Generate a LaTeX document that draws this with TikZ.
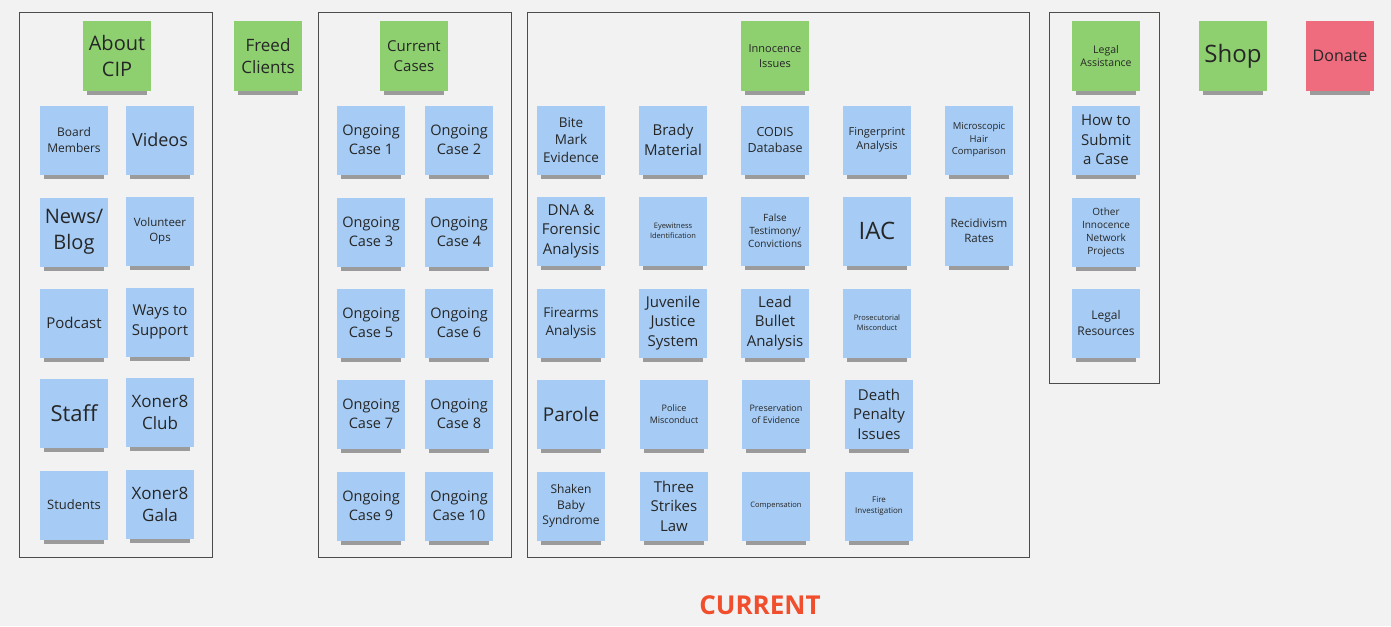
\documentclass[tikz,border=0pt]{standalone}
\usepackage{fontspec}
\setmainfont{Open Sans}
\usetikzlibrary{shadows}
\definecolor{boardbg}{HTML}{F2F2F2}
\definecolor{stickyblue}{HTML}{A6CCF5}
\definecolor{stickygreen}{HTML}{8ED070}
\definecolor{stickypink}{HTML}{EF6B7E}
\definecolor{currentred}{HTML}{F04E2C}
\newcommand\fsz[1]{\fontsize{#1}{1.3\dimexpr#1pt\relax}\selectfont}

\begin{document}
\begin{tikzpicture}[x=1pt,y=-1pt,
  note/.style={rectangle,minimum width=68,minimum height=69,inner sep=1pt,align=center,text=black!85,
    drop shadow={shadow scale=0.88,shadow xshift=0pt,shadow yshift=-10pt,opacity=0.45,fill=black!80}},
  bluenote/.style={note,fill=stickyblue},
  greennote/.style={note,fill=stickygreen},
  pinknote/.style={note,fill=stickypink},
  frame/.style={rectangle,draw=black!70,line width=0.9pt,inner sep=0pt}]
\fill[boardbg] (0,0) rectangle (1391,626);
\useasboundingbox (0,0) rectangle (1391,626);

% frames
\node[frame,minimum width=193,minimum height=545] (fabout) at (115.5,284.5) {};
\node[frame,minimum width=193,minimum height=545] (fcases) at (414.5,284.5) {};
\node[frame,minimum width=502,minimum height=545] (fissues) at (778,284.5) {};
\node[frame,minimum width=110,minimum height=371] (flegal) at (1104,197.5) {};

% about
\node[greennote,font=\fsz{20}] (about) at (117,56) {About\\CIP};
\node[bluenote,font=\fsz{12}] (board) at (74,140) {Board\\Members};
\node[bluenote,font=\fsz{18}] (videos) at (160,140) {Videos};
\node[bluenote,font=\fsz{20}] (news) at (74,232) {News/\\Blog};
\node[bluenote,font=\fsz{11.5}] (volunteer) at (160,231) {Volunteer\\Ops};
\node[bluenote,font=\fsz{15}] (podcast) at (74,323) {Podcast};
\node[bluenote,font=\fsz{15}] (ways) at (160,322) {Ways to\\Support};
\node[bluenote,font=\fsz{22}] (staff) at (74,413) {Staff};
\node[bluenote,font=\fsz{17}] (club) at (160,412) {Xoner8\\Club};
\node[bluenote,font=\fsz{13}] (students) at (74,505) {Students};
\node[bluenote,font=\fsz{17}] (gala) at (160,504) {Xoner8\\Gala};

\node[greennote,font=\fsz{17}] (freed) at (268,56) {Freed\\Clients};

% current cases
\node[greennote,font=\fsz{15}] (cases) at (414,56) {Current\\Cases};
\node[bluenote,font=\fsz{14.5}] (case1) at (371,140) {Ongoing\\Case 1};
\node[bluenote,font=\fsz{14.5}] (case2) at (459,140) {Ongoing\\Case 2};
\node[bluenote,font=\fsz{14.5}] (case3) at (371,232) {Ongoing\\Case 3};
\node[bluenote,font=\fsz{14.5}] (case4) at (459,232) {Ongoing\\Case 4};
\node[bluenote,font=\fsz{14.5}] (case5) at (371,323) {Ongoing\\Case 5};
\node[bluenote,font=\fsz{14.5}] (case6) at (459,323) {Ongoing\\Case 6};
\node[bluenote,font=\fsz{14.5}] (case7) at (371,414) {Ongoing\\Case 7};
\node[bluenote,font=\fsz{14.5}] (case8) at (459,414) {Ongoing\\Case 8};
\node[bluenote,font=\fsz{14.5}] (case9) at (371,506) {Ongoing\\Case 9};
\node[bluenote,font=\fsz{14.5}] (case10) at (459,506) {Ongoing\\Case 10};

% innocence issues
\node[greennote,font=\fsz{11}] (issues) at (775,56) {Innocence\\Issues};
\node[bluenote,font=\fsz{13.5}] (bite) at (571,140) {Bite\\Mark\\Evidence};
\node[bluenote,font=\fsz{15}] (brady) at (673,140) {Brady\\Material};
\node[bluenote,font=\fsz{12.5}] (codis) at (775,140) {CODIS\\Database};
\node[bluenote,font=\fsz{11}] (finger) at (877,140) {Fingerprint\\Analysis};
\node[bluenote,font=\fsz{9.5}] (hair) at (979,140) {Microscopic\\Hair\\Comparison};
\node[bluenote,font=\fsz{15}] (dna) at (571,231) {DNA \&\\Forensic\\Analysis};
\node[bluenote,font=\fsz{7.5}] (eyewitness) at (673,231) {Eyewitness\\Identification};
\node[bluenote,font=\fsz{10}] (false) at (775,231) {False\\Testimony/\\Convictions};
\node[bluenote,font=\fsz{24}] (iac) at (877,231) {IAC};
\node[bluenote,font=\fsz{11.5}] (recid) at (979,231) {Recidivism\\Rates};
\node[bluenote,font=\fsz{13.5}] (firearms) at (571,323) {Firearms\\Analysis};
\node[bluenote,font=\fsz{15}] (juvenile) at (673,323) {Juvenile\\Justice\\System};
\node[bluenote,font=\fsz{15}] (bullet) at (775,323) {Lead\\Bullet\\Analysis};
\node[bluenote,font=\fsz{7.5}] (prosec) at (877,323) {Prosecutorial\\Misconduct};
\node[bluenote,font=\fsz{19}] (parole) at (571,414) {Parole};
\node[bluenote,font=\fsz{9}] (police) at (674,414) {Police\\Misconduct};
\node[bluenote,font=\fsz{9}] (preserv) at (776,414) {Preservation\\of Evidence};
\node[bluenote,font=\fsz{15}] (death) at (879,414) {Death\\Penalty\\Issues};
\node[bluenote,font=\fsz{12}] (shaken) at (571,506) {Shaken\\Baby\\Syndrome};
\node[bluenote,font=\fsz{15}] (strikes) at (674,506) {Three\\Strikes\\Law};
\node[bluenote,font=\fsz{7.5}] (comp) at (776,506) {Compensation};
\node[bluenote,font=\fsz{8}] (fire) at (879,506) {Fire\\Investigation};

% legal
\node[greennote,font=\fsz{10.5}] (legal) at (1106,56) {Legal\\Assistance};
\node[bluenote,font=\fsz{15}] (submit) at (1106,140) {How to\\Submit\\a Case};
\node[bluenote,font=\fsz{10}] (network) at (1106,232) {Other\\Innocence\\Network\\Projects};
\node[bluenote,font=\fsz{12}] (resources) at (1106,323) {Legal\\Resources};

\node[greennote,font=\fsz{24}] (shop) at (1233,56) {Shop};
\node[pinknote,font=\fsz{16}] (donate) at (1340,56) {Donate};

\node[text=currentred,font=\fsz{26}\bfseries] (title) at (760,605) {CURRENT};
\end{tikzpicture}
\end{document}
